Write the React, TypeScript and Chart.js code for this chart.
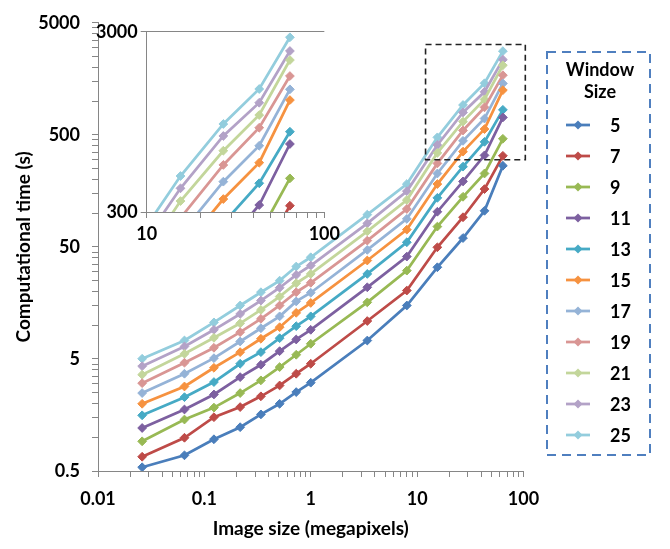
import React, { useEffect, useRef } from 'react';
import { Chart, registerables } from 'chart.js';
Chart.register(...registerables);

// ---------- data ----------
const imageSizes = [0.026, 0.065, 0.123, 0.217, 0.34, 0.51, 0.73, 1.0, 3.4, 8.0, 15.5, 27, 43, 64];
const windowSizes = ['5', '7', '9', '11', '13', '15', '17', '19', '21', '23', '25'];

const time5 = [0.54, 0.69, 0.96, 1.23, 1.6, 1.99, 2.53, 3.07, 7.3, 15.0, 32.9, 60, 105, 265];
const time7 = [0.67, 0.99, 1.51, 1.86, 2.32, 2.9, 3.69, 4.53, 10.9, 20.4, 49.6, 92, 164, 325];
const time9 = [0.92, 1.44, 1.84, 2.48, 3.22, 4.23, 5.45, 6.83, 16.0, 30.7, 75.9, 140, 226, 461];
const time11 = [1.21, 1.77, 2.41, 3.44, 4.44, 5.87, 7.46, 9.1, 21.8, 41.0, 103, 192, 328, 715];
const time13 = [1.57, 2.28, 3.11, 4.53, 5.75, 7.66, 9.8, 12.0, 28.7, 55.0, 137, 260, 433, 836];
const time15 = [1.99, 2.84, 4.17, 5.75, 7.57, 9.6, 12.9, 15.8, 37.8, 71.3, 182, 354, 563, 1253];
const time17 = [2.48, 3.69, 5.08, 7.16, 9.4, 12.0, 16.3, 19.5, 47.0, 88.9, 226, 442, 699, 1437];
const time19 = [3.04, 4.63, 6.29, 8.67, 11.4, 15.0, 19.7, 23.9, 56.9, 109, 278, 547, 880, 1703];
const time21 = [3.62, 5.56, 7.72, 10.4, 13.7, 18.0, 23.7, 28.7, 68.9, 131, 345, 656, 1035, 2089];
const time23 = [4.31, 6.46, 9.1, 12.6, 16.6, 21.6, 28.1, 34.1, 81, 157, 406, 792, 1211, 2344];
const time25 = [5.02, 7.31, 10.6, 15.0, 19.7, 25.0, 33.4, 40.4, 97, 182, 475, 923, 1443, 2793];

const seriesValues = [time5, time7, time9, time11, time13, time15, time17, time19, time21, time23, time25];

const seriesColors = [
  '#4A7EBB', '#BE4B48', '#98B954', '#7D60A0', '#46AAC5', '#F69240',
  '#95B3D7', '#D99694', '#C3D69B', '#B3A2C7', '#93CDDD',
];

const xMajorTicks = [0.01, 0.1, 1, 10, 100];
const yMajorTicks = [0.5, 5, 50, 500, 5000];
const insetXMajorTicks = [10, 100];
const insetYMajorTicks = [300, 3000];

const xTitle = 'Image size (megapixels)';
const yTitle = 'Computational time (s)';
const legendTitle = ['Window', 'Size'];

// ---------- helpers ----------
const FONT = 'Lato, "Open Sans", "DejaVu Sans", sans-serif';
const AXIS_GRAY = '#868686';
const TICK_SIZE = 18;
const TITLE_SIZE = 19;

function withMinors(majors: number[]) {
  const out: number[] = [];
  majors.forEach((m, i) => {
    out.push(m);
    if (i < majors.length - 1) for (let k = 2; k <= 9; k++) out.push(m * k);
  });
  return out;
}

function makeDatasets() {
  return seriesValues.map((vals, i) => ({
    label: windowSizes[i],
    data: vals.map((v, j) => ({ x: imageSizes[j], y: v })),
    borderColor: seriesColors[i],
    backgroundColor: seriesColors[i],
    borderWidth: 2.75,
    pointStyle: 'rectRot' as const,
    pointRadius: 4.4,
    pointBorderWidth: 1,
    pointBackgroundColor: seriesColors[i],
    pointBorderColor: seriesColors[i],
    tension: 0,
  }));
}

function logAxis(
  majors: number[],
  minors: boolean,
  opts: { fit: (s: any) => void; tickPadding: number; grid?: boolean; title?: any }
) {
  const all = minors ? withMinors(majors) : majors.slice();
  return {
    type: 'logarithmic' as const,
    min: majors[0],
    max: majors[majors.length - 1],
    afterBuildTicks: (scale: any) => {
      scale.ticks = all.map((v) => ({ value: v, major: majors.includes(v) }));
    },
    afterFit: opts.fit,
    border: { display: true, color: AXIS_GRAY, width: 1 },
    grid: {
      display: true,
      drawOnChartArea: !!opts.grid,
      color: (ctx: any) => (ctx.tick && ctx.tick.value === majors[majors.length - 1] ? AXIS_GRAY : 'rgba(0,0,0,0)'),
      tickColor: AXIS_GRAY,
      tickLength: 6,
      drawTicks: true,
    },
    ticks: {
      autoSkip: false,
      maxRotation: 0,
      padding: opts.tickPadding,
      color: '#000',
      font: { family: FONT, size: TICK_SIZE, weight: 'bold' as const },
      callback: (value: any) => (majors.includes(value) ? String(value) : ''),
    },
    title: opts.title || { display: false },
  };
}

// dashed zoom box on the main chart
const zoomBoxPlugin = {
  id: 'zoomBox',
  afterDatasetsDraw(chart: any) {
    const { ctx, scales } = chart;
    const x0 = scales.x.getPixelForValue(12);
    const x1 = scales.x.getPixelForValue(104);
    const y0 = scales.y.getPixelForValue(3200);
    const y1 = scales.y.getPixelForValue(300);
    ctx.save();
    ctx.strokeStyle = '#222';
    ctx.lineWidth = 1.6;
    ctx.setLineDash([6, 4]);
    ctx.strokeRect(x0, y0, x1 - x0, y1 - y0);
    ctx.restore();
  },
};

// custom legend with dashed blue frame
const legendBoxPlugin = {
  id: 'legendBox',
  afterDraw(chart: any) {
    const { ctx } = chart;
    const left = 547, top = 52, right = 650, bottom = 455;
    ctx.save();
    ctx.strokeStyle = '#4F7FBF';
    ctx.lineWidth = 2;
    ctx.setLineDash([9, 6]);
    ctx.strokeRect(left, top, right - left, bottom - top);
    ctx.setLineDash([]);
    ctx.fillStyle = '#000';
    ctx.font = `bold ${TICK_SIZE}px ${FONT}`;
    ctx.textAlign = 'center';
    ctx.textBaseline = 'middle';
    ctx.fillText(legendTitle[0], 600, 70);
    ctx.fillText(legendTitle[1], 600, 92);
    ctx.textAlign = 'left';
    chart.data.datasets.forEach((ds: any, i: number) => {
      const y = 125 + i * 31;
      ctx.strokeStyle = ds.borderColor;
      ctx.lineWidth = 2.75;
      ctx.beginPath();
      ctx.moveTo(566, y);
      ctx.lineTo(590, y);
      ctx.stroke();
      ctx.fillStyle = ds.borderColor;
      ctx.beginPath();
      ctx.moveTo(578, y - 4.5);
      ctx.lineTo(582.5, y);
      ctx.lineTo(578, y + 4.5);
      ctx.lineTo(573.5, y);
      ctx.closePath();
      ctx.fill();
      ctx.fillStyle = '#000';
      ctx.fillText(ds.label, 610, y + 1);
    });
    ctx.restore();
  },
};

export default function App() {
  const mainRef = useRef<HTMLCanvasElement>(null);
  const insetRef = useRef<HTMLCanvasElement>(null);

  useEffect(() => {
    Chart.defaults.font.family = FONT;
    const main = new Chart(mainRef.current as HTMLCanvasElement, {
      type: 'line',
      data: { datasets: makeDatasets() as any },
      options: {
        animation: false,
        responsive: false,
        devicePixelRatio: 1,
        layout: { padding: { left: 0, right: 146.5, top: 22, bottom: 0 } },
        plugins: { legend: { display: false }, tooltip: { enabled: false } },
        scales: {
          x: logAxis(xMajorTicks, true, {
            fit: (s: any) => { s.height = 78; },
            tickPadding: 11,
            title: {
              display: true,
              text: xTitle,
              color: '#000',
              font: { family: FONT, size: TITLE_SIZE, weight: 'bold' },
              padding: { top: 0, bottom: 9 },
            },
          }) as any,
          y: logAxis(yMajorTicks, true, {
            fit: (s: any) => { s.width = 98; },
            tickPadding: 12,
            title: {
              display: true,
              text: yTitle,
              color: '#000',
              font: { family: FONT, size: TITLE_SIZE, weight: 'bold' },
              padding: { top: 12, bottom: 0 },
            },
          }) as any,
        },
      },
      plugins: [zoomBoxPlugin, legendBoxPlugin],
    });

    const inset = new Chart(insetRef.current as HTMLCanvasElement, {
      type: 'line',
      data: { datasets: makeDatasets() as any },
      options: {
        animation: false,
        responsive: false,
        devicePixelRatio: 1,
        layout: { padding: { left: 0, right: 14, top: 16.7, bottom: 0 } },
        plugins: { legend: { display: false }, tooltip: { enabled: false } },
        scales: {
          x: logAxis(insetXMajorTicks, true, {
            fit: (s: any) => { s.height = 38; },
            tickPadding: 5,
          }) as any,
          y: logAxis(insetYMajorTicks, false, {
            fit: (s: any) => { s.width = 51.7; },
            tickPadding: 3,
            grid: true,
          }) as any,
        },
      },
    });

    return () => {
      main.destroy();
      inset.destroy();
    };
  }, []);

  return (
    <div style={{ position: 'absolute', left: 0, top: 0, width: 670, height: 549, background: '#fff' }}>
      <canvas ref={mainRef} width={670} height={549} style={{ position: 'absolute', left: 0, top: 0, width: 670, height: 549 }} />
      <canvas ref={insetRef} width={250} height={235} style={{ position: 'absolute', left: 95, top: 15, width: 250, height: 235 }} />
    </div>
  );
}
